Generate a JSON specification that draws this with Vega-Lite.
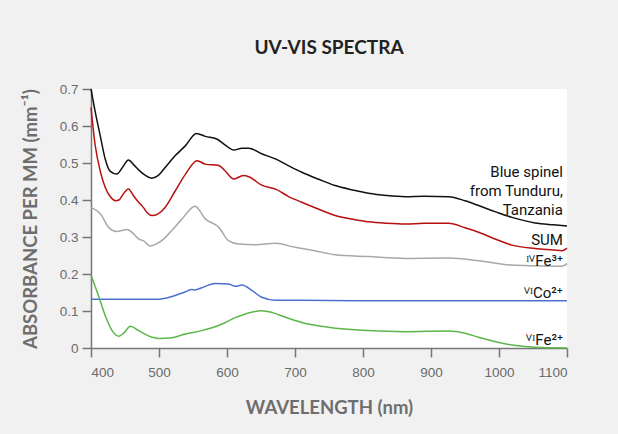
{
  "$schema": "https://vega.github.io/schema/vega-lite/v6.json",
  "width": 476,
  "height": 259,
  "autosize": {"type": "none"},
  "padding": {"left": 91, "top": 89, "right": 51, "bottom": 86},
  "background": "#f1f1f1",
  "title": {
    "text": "UV-VIS SPECTRA",
    "font": "Lato",
    "fontSize": 19,
    "fontWeight": "bold",
    "color": "#222222",
    "anchor": "middle",
    "offset": 24
  },
  "config": {
    "view": {"fill": "white", "stroke": null},
    "axis": {
      "domainColor": "#777777",
      "domainWidth": 1.5,
      "tickColor": "#777777",
      "tickWidth": 1.5,
      "tickSize": 9,
      "grid": false,
      "labelFont": "Liberation Sans",
      "labelFontSize": 13.5,
      "labelColor": "#6a6a6a",
      "titleFont": "Lato",
      "titleFontSize": 18.5,
      "titleFontWeight": "bold",
      "titleColor": "#6e6e6e"
    }
  },
  "datasets": {
    "spectra": [
      {"s": "spinel", "nm": 400, "a": 0.70}, {"s": "spinel", "nm": 406, "a": 0.64}, {"s": "spinel", "nm": 414, "a": 0.57},
      {"s": "spinel", "nm": 421, "a": 0.51}, {"s": "spinel", "nm": 428, "a": 0.478}, {"s": "spinel", "nm": 438, "a": 0.47},
      {"s": "spinel", "nm": 447, "a": 0.49}, {"s": "spinel", "nm": 455, "a": 0.508}, {"s": "spinel", "nm": 463, "a": 0.495},
      {"s": "spinel", "nm": 472, "a": 0.478}, {"s": "spinel", "nm": 479, "a": 0.468}, {"s": "spinel", "nm": 489, "a": 0.459},
      {"s": "spinel", "nm": 498, "a": 0.465}, {"s": "spinel", "nm": 509, "a": 0.488}, {"s": "spinel", "nm": 524, "a": 0.52},
      {"s": "spinel", "nm": 539, "a": 0.547}, {"s": "spinel", "nm": 555, "a": 0.58}, {"s": "spinel", "nm": 568, "a": 0.572},
      {"s": "spinel", "nm": 585, "a": 0.565}, {"s": "spinel", "nm": 597, "a": 0.549}, {"s": "spinel", "nm": 610, "a": 0.535},
      {"s": "spinel", "nm": 622, "a": 0.54}, {"s": "spinel", "nm": 632, "a": 0.54}, {"s": "spinel", "nm": 651, "a": 0.525},
      {"s": "spinel", "nm": 671, "a": 0.511}, {"s": "spinel", "nm": 690, "a": 0.493}, {"s": "spinel", "nm": 710, "a": 0.475},
      {"s": "spinel", "nm": 735, "a": 0.456}, {"s": "spinel", "nm": 759, "a": 0.439}, {"s": "spinel", "nm": 785, "a": 0.427},
      {"s": "spinel", "nm": 808, "a": 0.418}, {"s": "spinel", "nm": 835, "a": 0.412}, {"s": "spinel", "nm": 862, "a": 0.409},
      {"s": "spinel", "nm": 890, "a": 0.41}, {"s": "spinel", "nm": 926, "a": 0.409}, {"s": "spinel", "nm": 950, "a": 0.398},
      {"s": "spinel", "nm": 970, "a": 0.385}, {"s": "spinel", "nm": 995, "a": 0.368}, {"s": "spinel", "nm": 1019, "a": 0.353},
      {"s": "spinel", "nm": 1053, "a": 0.338}, {"s": "spinel", "nm": 1080, "a": 0.333}, {"s": "spinel", "nm": 1100, "a": 0.33},

      {"s": "sum", "nm": 400, "a": 0.65}, {"s": "sum", "nm": 406, "a": 0.55}, {"s": "sum", "nm": 414, "a": 0.475},
      {"s": "sum", "nm": 421, "a": 0.434}, {"s": "sum", "nm": 428, "a": 0.41}, {"s": "sum", "nm": 436, "a": 0.398},
      {"s": "sum", "nm": 441, "a": 0.40}, {"s": "sum", "nm": 447, "a": 0.415}, {"s": "sum", "nm": 455, "a": 0.43},
      {"s": "sum", "nm": 463, "a": 0.41}, {"s": "sum", "nm": 470, "a": 0.394}, {"s": "sum", "nm": 477, "a": 0.38},
      {"s": "sum", "nm": 483, "a": 0.365}, {"s": "sum", "nm": 490, "a": 0.358}, {"s": "sum", "nm": 498, "a": 0.362},
      {"s": "sum", "nm": 509, "a": 0.38}, {"s": "sum", "nm": 524, "a": 0.425}, {"s": "sum", "nm": 539, "a": 0.47},
      {"s": "sum", "nm": 556, "a": 0.506}, {"s": "sum", "nm": 568, "a": 0.497}, {"s": "sum", "nm": 588, "a": 0.493},
      {"s": "sum", "nm": 597, "a": 0.479}, {"s": "sum", "nm": 610, "a": 0.457}, {"s": "sum", "nm": 624, "a": 0.466},
      {"s": "sum", "nm": 632, "a": 0.463}, {"s": "sum", "nm": 651, "a": 0.44}, {"s": "sum", "nm": 673, "a": 0.428},
      {"s": "sum", "nm": 690, "a": 0.41}, {"s": "sum", "nm": 710, "a": 0.394}, {"s": "sum", "nm": 735, "a": 0.375},
      {"s": "sum", "nm": 759, "a": 0.358}, {"s": "sum", "nm": 785, "a": 0.348}, {"s": "sum", "nm": 808, "a": 0.341},
      {"s": "sum", "nm": 835, "a": 0.337}, {"s": "sum", "nm": 862, "a": 0.335}, {"s": "sum", "nm": 890, "a": 0.337},
      {"s": "sum", "nm": 926, "a": 0.337}, {"s": "sum", "nm": 950, "a": 0.325}, {"s": "sum", "nm": 970, "a": 0.313},
      {"s": "sum", "nm": 995, "a": 0.294}, {"s": "sum", "nm": 1019, "a": 0.278}, {"s": "sum", "nm": 1053, "a": 0.269},
      {"s": "sum", "nm": 1080, "a": 0.265}, {"s": "sum", "nm": 1093, "a": 0.263}, {"s": "sum", "nm": 1100, "a": 0.27},

      {"s": "fe3", "nm": 400, "a": 0.38}, {"s": "fe3", "nm": 414, "a": 0.362}, {"s": "fe3", "nm": 426, "a": 0.326},
      {"s": "fe3", "nm": 438, "a": 0.315}, {"s": "fe3", "nm": 453, "a": 0.32}, {"s": "fe3", "nm": 462, "a": 0.31},
      {"s": "fe3", "nm": 470, "a": 0.295}, {"s": "fe3", "nm": 477, "a": 0.29}, {"s": "fe3", "nm": 487, "a": 0.276},
      {"s": "fe3", "nm": 495, "a": 0.28}, {"s": "fe3", "nm": 504, "a": 0.29}, {"s": "fe3", "nm": 520, "a": 0.32},
      {"s": "fe3", "nm": 534, "a": 0.349}, {"s": "fe3", "nm": 553, "a": 0.383}, {"s": "fe3", "nm": 568, "a": 0.349},
      {"s": "fe3", "nm": 588, "a": 0.326}, {"s": "fe3", "nm": 602, "a": 0.29}, {"s": "fe3", "nm": 617, "a": 0.281},
      {"s": "fe3", "nm": 642, "a": 0.279}, {"s": "fe3", "nm": 671, "a": 0.283}, {"s": "fe3", "nm": 700, "a": 0.272},
      {"s": "fe3", "nm": 729, "a": 0.263}, {"s": "fe3", "nm": 759, "a": 0.252}, {"s": "fe3", "nm": 808, "a": 0.247},
      {"s": "fe3", "nm": 862, "a": 0.242}, {"s": "fe3", "nm": 926, "a": 0.243}, {"s": "fe3", "nm": 970, "a": 0.236},
      {"s": "fe3", "nm": 1019, "a": 0.224}, {"s": "fe3", "nm": 1053, "a": 0.222}, {"s": "fe3", "nm": 1093, "a": 0.221},
      {"s": "fe3", "nm": 1100, "a": 0.228},

      {"s": "co", "nm": 400, "a": 0.132}, {"s": "co", "nm": 450, "a": 0.132}, {"s": "co", "nm": 500, "a": 0.132},
      {"s": "co", "nm": 519, "a": 0.139}, {"s": "co", "nm": 539, "a": 0.152}, {"s": "co", "nm": 548, "a": 0.158},
      {"s": "co", "nm": 553, "a": 0.157}, {"s": "co", "nm": 563, "a": 0.163}, {"s": "co", "nm": 573, "a": 0.17},
      {"s": "co", "nm": 583, "a": 0.174}, {"s": "co", "nm": 602, "a": 0.173}, {"s": "co", "nm": 612, "a": 0.167},
      {"s": "co", "nm": 622, "a": 0.17}, {"s": "co", "nm": 637, "a": 0.155}, {"s": "co", "nm": 651, "a": 0.137},
      {"s": "co", "nm": 671, "a": 0.129}, {"s": "co", "nm": 700, "a": 0.129}, {"s": "co", "nm": 800, "a": 0.128},
      {"s": "co", "nm": 900, "a": 0.128}, {"s": "co", "nm": 1000, "a": 0.128}, {"s": "co", "nm": 1100, "a": 0.128},

      {"s": "fe2", "nm": 400, "a": 0.197}, {"s": "fe2", "nm": 411, "a": 0.141}, {"s": "fe2", "nm": 421, "a": 0.087},
      {"s": "fe2", "nm": 431, "a": 0.047}, {"s": "fe2", "nm": 441, "a": 0.032}, {"s": "fe2", "nm": 448, "a": 0.04},
      {"s": "fe2", "nm": 458, "a": 0.059}, {"s": "fe2", "nm": 470, "a": 0.047}, {"s": "fe2", "nm": 480, "a": 0.037},
      {"s": "fe2", "nm": 490, "a": 0.029}, {"s": "fe2", "nm": 499, "a": 0.026}, {"s": "fe2", "nm": 519, "a": 0.028},
      {"s": "fe2", "nm": 539, "a": 0.038}, {"s": "fe2", "nm": 563, "a": 0.047}, {"s": "fe2", "nm": 593, "a": 0.065},
      {"s": "fe2", "nm": 612, "a": 0.082}, {"s": "fe2", "nm": 627, "a": 0.092}, {"s": "fe2", "nm": 651, "a": 0.101},
      {"s": "fe2", "nm": 668, "a": 0.095}, {"s": "fe2", "nm": 686, "a": 0.083}, {"s": "fe2", "nm": 710, "a": 0.069},
      {"s": "fe2", "nm": 749, "a": 0.056}, {"s": "fe2", "nm": 808, "a": 0.047}, {"s": "fe2", "nm": 862, "a": 0.044},
      {"s": "fe2", "nm": 926, "a": 0.046}, {"s": "fe2", "nm": 950, "a": 0.04}, {"s": "fe2", "nm": 970, "a": 0.029},
      {"s": "fe2", "nm": 995, "a": 0.017}, {"s": "fe2", "nm": 1019, "a": 0.008}, {"s": "fe2", "nm": 1053, "a": 0.002},
      {"s": "fe2", "nm": 1100, "a": 0.0}
    ],
    "labels": [
      {"t": "Blue spinel", "nm": 1094, "a": 0.4765},
      {"t": "from Tunduru,", "nm": 1094, "a": 0.425},
      {"t": "Tanzania", "nm": 1094, "a": 0.373},
      {"t": "SUM", "nm": 1094, "a": 0.293},
      {"t": "ᴵⱽFe³⁺", "nm": 1094, "a": 0.236},
      {"t": "ⱽᴵCo²⁺", "nm": 1094, "a": 0.15},
      {"t": "ⱽᴵFe²⁺", "nm": 1094, "a": 0.022}
    ]
  },
  "encoding": {
    "x": {
      "field": "nm", "type": "quantitative",
      "scale": {"domain": [400, 1100], "nice": false, "zero": false},
      "axis": {"values": [400, 500, 600, 700, 800, 900, 1000, 1100], "format": "d", "title": "WAVELENGTH (nm)", "labelPadding": 8, "titlePadding": 20}
    },
    "y": {
      "field": "a", "type": "quantitative",
      "scale": {"domain": [0, 0.7], "nice": false},
      "axis": {"values": [0, 0.1, 0.2, 0.3, 0.4, 0.5, 0.6, 0.7], "format": ".1~f", "title": "ABSORBANCE PER MM (mm⁻¹)", "labelPadding": 4, "titlePadding": 19}
    }
  },
  "layer": [
    {
      "data": {"name": "spectra"},
      "mark": {"type": "line", "interpolate": "monotone", "strokeWidth": 1.5},
      "encoding": {
        "color": {
          "field": "s", "type": "nominal", "legend": null,
          "scale": {"domain": ["spinel", "sum", "fe3", "co", "fe2"], "range": ["#111111", "#b80f0f", "#a8a8a8", "#4a70d2", "#5cb54a"]}
        }
      }
    },
    {
      "data": {"name": "labels"},
      "mark": {"type": "text", "align": "right", "baseline": "middle", "font": "Roboto", "fontSize": 15, "color": "#111111"},
      "encoding": {
        "text": {"field": "t"}
      }
    }
  ]
}
